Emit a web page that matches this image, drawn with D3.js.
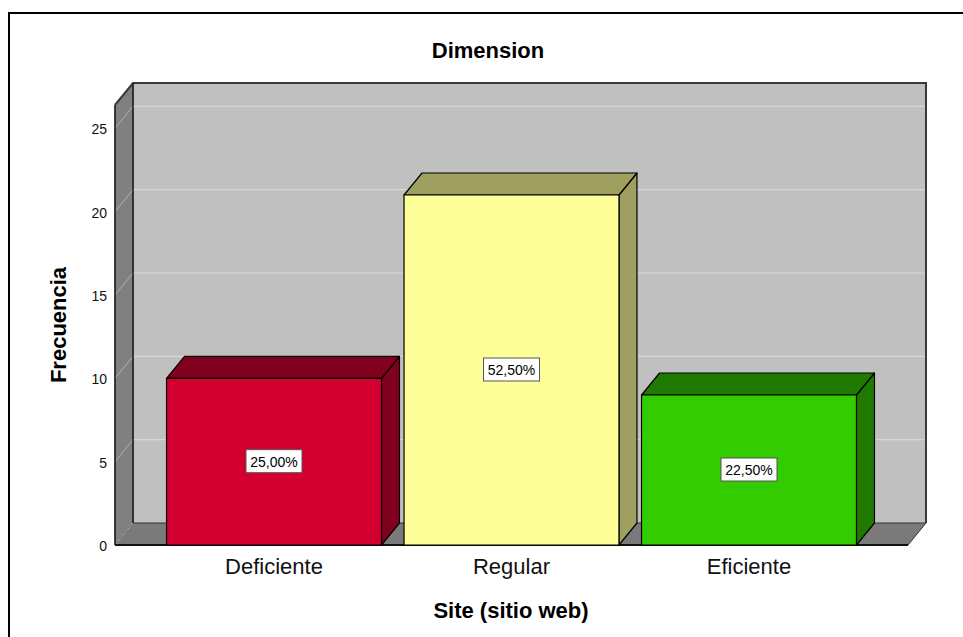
<!DOCTYPE html>
<html>
<head>
<meta charset="utf-8">
<script src="https://cdn.jsdelivr.net/npm/d3@7"></script>
<style>
  html, body { margin: 0; padding: 0; background: #fff; }
  svg { display: block; font-family: "Liberation Sans", Arial, sans-serif; }
</style>
</head>
<body>
<svg id="chart" width="963" height="637"></svg>
<script>
// ---- data ----
const categories = ["Deficiente", "Regular", "Eficiente"];
const frequencies = [10, 21, 9];
const percentLabels = ["25,00%", "52,50%", "22,50%"];
const yTickValues = [0, 5, 10, 15, 20, 25];
const frontColors = ["#d3002f", "#ffff99", "#33cc00"];
const darkColors = ["#80001e", "#9f9f5f", "#217a00"];
const chartTitle = "Dimension";
const xTitle = "Site (sitio web)";
const yTitle = "Frecuencia";

// ---- layout ----
const svg = d3.select("#chart");
const pLeft = 115, pRight = 908, pBottom = 545, pTop = 105;
const dx = 18, dy = -22;
const yMax = 26.4;

const x = d3.scaleBand().domain(categories).range([pLeft, pRight])
  .paddingInner(0.095).paddingOuter(0.217);
const y = d3.scaleLinear().domain([0, yMax]).range([pBottom, pTop]);

const poly = pts => "M" + pts.map(p => p.join(",")).join("L") + "Z";

// outer frame
svg.append("path").attr("d", "M9,640V13H966")
  .attr("fill", "none").attr("stroke", "#000").attr("stroke-width", 2);

// back wall
svg.append("path")
  .attr("d", poly([[pLeft + dx, pTop + dy], [pRight + dx, pTop + dy], [pRight + dx, pBottom + dy], [pLeft + dx, pBottom + dy]]))
  .attr("fill", "#c0c0c0");

// side wall
svg.append("path")
  .attr("d", poly([[pLeft, pBottom], [pLeft, pTop], [pLeft + dx, pTop + dy], [pLeft + dx, pBottom + dy]]))
  .attr("fill", "#808080").attr("stroke", "#333").attr("stroke-width", 1);

// floor
svg.append("path")
  .attr("d", poly([[pLeft, pBottom], [pRight, pBottom], [pRight + dx, pBottom + dy], [pLeft + dx, pBottom + dy]]))
  .attr("fill", "#7a7a7a").attr("stroke", "#333").attr("stroke-width", 1);

// gridlines
const grid = svg.append("g");
yTickValues.forEach(v => {
  if (v > 0) {
    grid.append("line")
      .attr("x1", pLeft + dx).attr("x2", pRight + dx)
      .attr("y1", y(v) + dy).attr("y2", y(v) + dy)
      .attr("stroke", "#d6d6d6").attr("stroke-width", 1.2);
  }
  grid.append("line")
    .attr("x1", pLeft).attr("x2", pLeft + dx)
    .attr("y1", y(v)).attr("y2", y(v) + dy)
    .attr("stroke", "#b0b0b0").attr("stroke-width", 1);
});

// wall edges
svg.append("path")
  .attr("d", `M${pLeft},${pTop}L${pLeft + dx},${pTop + dy}H${pRight + dx}V${pBottom + dy}`)
  .attr("fill", "none").attr("stroke", "#3a3a3a").attr("stroke-width", 2);
svg.append("line")
  .attr("x1", pLeft + dx).attr("x2", pLeft + dx).attr("y1", pTop + dy).attr("y2", pBottom + dy)
  .attr("stroke", "#222").attr("stroke-width", 1.5);
svg.append("line")
  .attr("x1", pLeft).attr("x2", pLeft).attr("y1", pTop).attr("y2", pBottom)
  .attr("stroke", "#222").attr("stroke-width", 1.5);
svg.append("line")
  .attr("x1", pLeft).attr("x2", pRight).attr("y1", pBottom).attr("y2", pBottom)
  .attr("stroke", "#111").attr("stroke-width", 2);

// bars
const bars = svg.append("g");
categories.forEach((c, i) => {
  const x0 = x(c), x1 = x(c) + x.bandwidth();
  const yt = y(frequencies[i]), yb = y(0);
  const g = bars.append("g").attr("stroke", "#000").attr("stroke-width", 1.2).attr("stroke-linejoin", "round");
  g.append("path").attr("d", poly([[x1, yt], [x1 + dx, yt + dy], [x1 + dx, yb + dy], [x1, yb]])).attr("fill", darkColors[i]);
  g.append("path").attr("d", poly([[x0, yt], [x0 + dx, yt + dy], [x1 + dx, yt + dy], [x1, yt]])).attr("fill", darkColors[i]);
  g.append("path").attr("d", poly([[x0, yt], [x1, yt], [x1, yb], [x0, yb]])).attr("fill", frontColors[i]);
});

// value labels
categories.forEach((c, i) => {
  const cx = x(c) + x.bandwidth() / 2;
  const cy = y(frequencies[i] / 2);
  const g = svg.append("g");
  g.append("rect").attr("x", cx - 28).attr("y", cy - 12).attr("width", 56).attr("height", 23)
    .attr("fill", "#fff").attr("stroke", "#555").attr("stroke-width", 1);
  g.append("text").attr("x", cx).attr("y", cy).attr("dy", "0.36em")
    .attr("text-anchor", "middle").attr("font-size", 14).attr("fill", "#000")
    .text(percentLabels[i]);
});

// y axis
const yAxis = svg.append("g").attr("transform", `translate(${pLeft},0)`)
  .call(d3.axisLeft(y).tickValues(yTickValues).tickSize(0).tickPadding(8));
yAxis.select(".domain").remove();
yAxis.selectAll("text").attr("font-size", 14).attr("fill", "#111")
  .attr("font-family", "'Liberation Sans', Arial, sans-serif").attr("dy", "0.4em");

// x axis labels
const xAxis = svg.append("g").attr("transform", `translate(0,${pBottom})`)
  .call(d3.axisBottom(x).tickSize(0).tickPadding(14));
xAxis.select(".domain").remove();
xAxis.selectAll("text").attr("font-size", 22).attr("fill", "#111")
  .attr("font-family", "'Liberation Sans', Arial, sans-serif").attr("dy", "0.68em");

// titles
svg.append("text").attr("x", 488).attr("y", 58).attr("text-anchor", "middle")
  .attr("font-size", 22).attr("font-weight", "bold").attr("fill", "#000").text(chartTitle);
svg.append("text").attr("x", 511).attr("y", 618).attr("text-anchor", "middle")
  .attr("font-size", 22).attr("font-weight", "bold").attr("fill", "#000").text(xTitle);
svg.append("text").attr("transform", "translate(66,325) rotate(-90)").attr("text-anchor", "middle")
  .attr("font-size", 22).attr("font-weight", "bold").attr("fill", "#000").text(yTitle);
</script>
</body>
</html>
